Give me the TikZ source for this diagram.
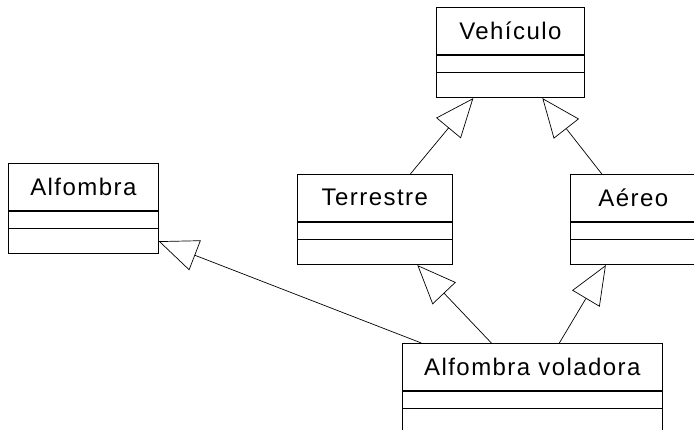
\documentclass[tikz,border=0pt]{standalone}
\usepackage{fontspec}
\setmainfont{Liberation Sans}[LetterSpace=6]
\usetikzlibrary{arrows.meta}

\begin{document}
\begin{tikzpicture}[x=1pt, y=-1pt, line width=0.7pt,
  >={Triangle[open, length=39pt, width=32pt]},
  title/.style={draw, anchor=north west, inner sep=0pt, minimum height=47pt,
    font=\fontsize{24}{28}\selectfont},
  attr/.style={draw, anchor=north, inner sep=0pt, minimum height=17pt},
  meth/.style={draw, anchor=north, inner sep=0pt, minimum height=25pt}]
\path[use as bounding box, clip] (0,0) rectangle (694,430);
% classes
\node[title, minimum width=148pt] (veh) at (436,7) {Vehículo};
\node[attr, minimum width=148pt] (vehA) at (veh.south) {};
\node[meth, minimum width=148pt] (vehM) at (vehA.south) {};
\node[title, minimum width=150pt] (alf) at (8,163) {Alfombra};
\node[attr, minimum width=150pt] (alfA) at (alf.south) {};
\node[meth, minimum width=150pt] (alfM) at (alfA.south) {};
\node[title, minimum width=155pt] (terr) at (297,174) {Terrestre};
\node[attr, minimum width=155pt] (terrA) at (terr.south) {};
\node[meth, minimum width=155pt] (terrM) at (terrA.south) {};
\node[title, minimum width=126pt] (aer) at (570,174) {Aéreo};
\node[attr, minimum width=126pt] (aerA) at (aer.south) {};
\node[meth, minimum width=126pt] (aerM) at (aerA.south) {};
\node[title, minimum width=260pt] (vol) at (402,343) {Alfombra voladora};
\node[attr, minimum width=260pt] (volA) at (vol.south) {};
\node[meth, minimum width=260pt] (volM) at (volA.south) {};
% inheritance
\draw[->] ([xshift=35.5pt]terr.north) -- ([xshift=-37pt]vehM.south);
\draw[->] ([xshift=-31.5pt]aer.north) -- ([xshift=32pt]vehM.south);
\draw[->] ([xshift=-41pt]vol.north) -- ([xshift=42.5pt]terrM.south);
\draw[->] ([xshift=27pt]vol.north) -- ([xshift=-27.5pt]aerM.south);
\draw[->] ([xshift=-111pt]vol.north) -- (alfM.east);
\end{tikzpicture}
\end{document}
